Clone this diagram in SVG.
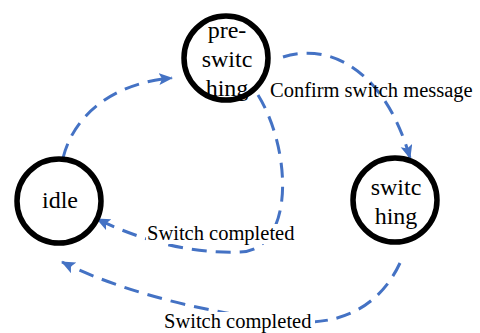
<svg xmlns="http://www.w3.org/2000/svg" width="480" height="333" viewBox="0 0 480 333">
  <style>
    .node { fill: #ffffff; stroke: #000000; stroke-width: 5.5; }
    .ntext { font-size: 24px; fill: #000000; text-anchor: middle; }
    .edge { fill: none; stroke: #4472C4; stroke-width: 3; stroke-dasharray: 15 9; }
    .label { font-size: 20.5px; fill: #000000; }
    .lbg { fill: #ffffff; }
  </style>
  <defs>
    <marker id="arrow" markerWidth="16" markerHeight="14" refX="13" refY="6" orient="auto" markerUnits="userSpaceOnUse">
      <path d="M0,0 L14,6 L0,12 L3,6 z" fill="#4472C4"/>
    </marker>
  </defs>
  <rect width="480" height="333" fill="#ffffff"/>

  <g id="connectors">
    <path class="edge" d="M63,158 C75,110 120,82 172,78" marker-end="url(#arrow)"/>
    <path class="edge" d="M283,57 C330,42 385,70 410,158" marker-end="url(#arrow)"/>
    <path class="edge" d="M258,95 C292,150 295,250 240,252 C190,254 140,240 97,219" marker-end="url(#arrow)"/>
    <path class="edge" d="M400,263 C385,295 355,324 300,322 C230,318 130,296 62,262" marker-end="url(#arrow)"/>
  </g>

  <g id="labels" font-family="'Liberation Serif', 'Times New Roman', serif">
    <text class="label" x="270" y="97">Confirm switch message</text>
    <rect class="lbg" x="146" y="224" width="152" height="20"/>
    <text class="label" x="147" y="240">Switch completed</text>
    <rect class="lbg" x="163" y="312" width="152" height="21"/>
    <text class="label" x="164" y="328">Switch completed</text>
  </g>

  <g id="pre-switching" font-family="'Liberation Serif', 'Times New Roman', serif">
    <circle class="node" cx="226" cy="58" r="42"/>
    <text class="ntext" x="227" y="38">pre-</text>
    <text class="ntext" x="227" y="67">switc</text>
    <text class="ntext" x="227" y="96">hing</text>
  </g>

  <g id="idle" font-family="'Liberation Serif', 'Times New Roman', serif">
    <circle class="node" cx="59" cy="201" r="42"/>
    <text class="ntext" x="60" y="208">idle</text>
  </g>

  <g id="switching" font-family="'Liberation Serif', 'Times New Roman', serif">
    <circle class="node" cx="395" cy="200" r="42"/>
    <text class="ntext" x="396" y="195">switc</text>
    <text class="ntext" x="396" y="224">hing</text>
  </g>
</svg>
